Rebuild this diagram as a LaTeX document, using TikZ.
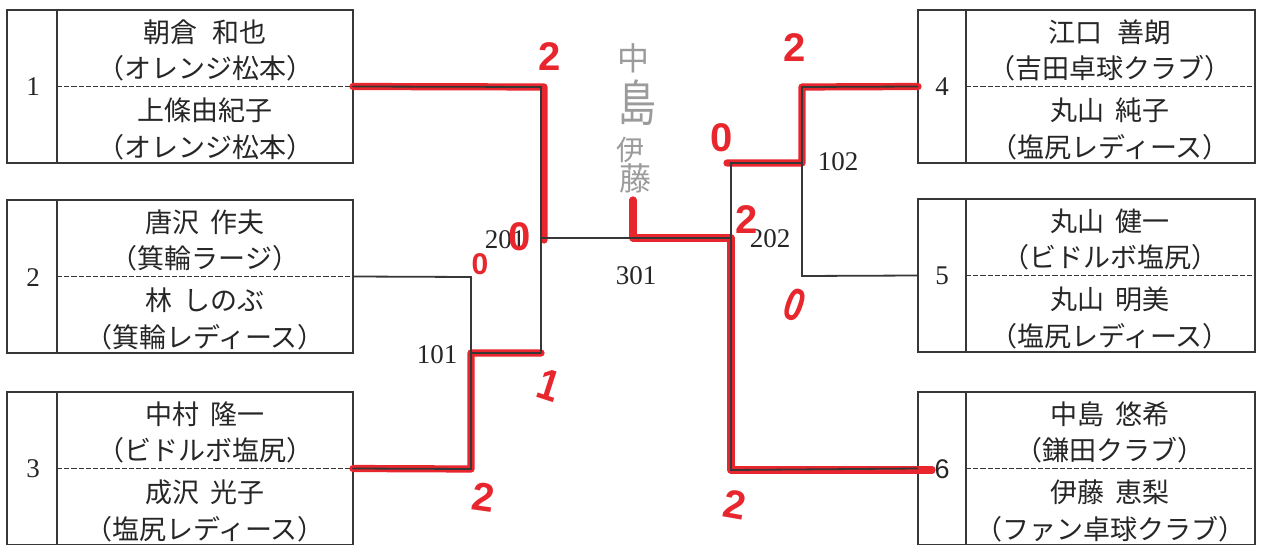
\documentclass[tikz,border=0pt]{standalone}
\usepackage{fontspec}
\setmainfont{Liberation Serif}
\newfontfamily\jp{Noto Sans CJK JP}
\newfontfamily\lsans{Liberation Sans}
\definecolor{ink}{RGB}{55,55,55}
\definecolor{marker}{RGB}{232,38,45}
\definecolor{pencil}{RGB}{155,155,155}
\begin{document}
\begin{tikzpicture}[x=0.5pt,y=-0.5pt,
  lbox/.style={draw=ink,line width=1.1pt,inner sep=0pt,outer sep=0pt,minimum width=173pt,minimum height=76.5pt},
  rbox/.style={draw=ink,line width=1.1pt,inner sep=0pt,outer sep=0pt,minimum width=168.5pt,minimum height=76.5pt},
  wire/.style={draw=ink,line width=0.9pt},
  sep/.style={draw=ink,line width=0.9pt},
  dsep/.style={draw=ink,line width=0.8pt,dash pattern=on 2.6pt off 1pt},
  redline/.style={draw=marker,line width=3.6pt,line cap=round,line join=round},
  nm/.style={font=\jp\fontsize{13.5}{15}\selectfont,text=black!85,inner sep=0pt},
  num/.style={font=\fontsize{13.5}{15}\selectfont,text=black!85,inner sep=0pt},
  blab/.style={font=\fontsize{13.5}{15}\selectfont,text=black!85,inner sep=0pt},
  score/.style={font=\lsans\bfseries\fontsize{20}{22}\selectfont,text=marker,inner sep=0pt},
  pen/.style={font=\jp\fontsize{16}{18}\selectfont,text=pencil,inner sep=0pt}
]
\useasboundingbox (0,0) rectangle (1261,545);
\clip (0,0) rectangle (1261,545);
\fill[white] (0,0) rectangle (1261,545);

% junction coordinates
\coordinate (a1) at (541,87);
\coordinate (j101) at (471,353);
\coordinate (j101r) at (541,353);
\coordinate (a2) at (471,277);
\coordinate (a3) at (471,469);
\coordinate (j201) at (541,238);
\coordinate (j202) at (731,238);
\coordinate (w301) at (633,238);
\coordinate (w301t) at (633,200);
\coordinate (b4) at (802,87);
\coordinate (j102) at (802,163);
\coordinate (j102l) at (731,163);
\coordinate (b5) at (802,276);
\coordinate (b6) at (731,470);
\coordinate (e6) at (932,470);

% boxes
\node[lbox] (p1) at (180,86.5) {};
\node[lbox] (p2) at (180,276.5) {};
\node[lbox] (p3) at (180,468.5) {};
\node[rbox] (p4) at (1086.5,86.5) {};
\node[rbox] (p5) at (1086.5,275.5) {};
\node[rbox] (p6) at (1086.5,468.5) {};

% red winner marks (under the black lines)
\draw[redline] (p1.east) -- (544,87) -- (544,240);
\draw[redline] (p3.east) -- (a3) -- (j101) -- (j101r);
\draw[redline] (w301t) -- (w301) -- (j202) -- (b6) -- (e6);
\draw[redline] (p4.west) -- (b4) -- (j102) -- (727,163);

% box inner lines
\foreach \b in {p1,p2,p3}{
  \draw[sep] ([xshift=25pt]\b.north west) -- ([xshift=25pt]\b.south west);
  \draw[dsep] ([xshift=25pt]\b.west) -- (\b.east);
}
\foreach \b in {p4,p5,p6}{
  \draw[sep] ([xshift=24pt]\b.north west) -- ([xshift=24pt]\b.south west);
  \draw[dsep] ([xshift=24pt]\b.west) -- (\b.east);
}

% bracket wires
\draw[wire] (p1.east) -- (a1) -- (j101r);
\draw[wire] (p2.east) -- (a2) -- (a3) -- (p3.east);
\draw[wire] (j101) -- (j101r);
\draw[wire] (j201) -- (j202);
\draw[wire] (p4.west) -- (b4) -- (b5) -- (p5.west);
\draw[wire] (j102) -- (j102l) -- (b6) -- (p6.west);

% seed numbers
\node[num] (n1) at (33,87) {1};
\node[num] (n2) at (33,278) {2};
\node[num] (n3) at (33,469) {3};
\node[num] (n4) at (942,87) {4};
\node[num] (n5) at (942,276) {5};
\node[num,font=\lsans\fontsize{13.5}{15}\selectfont] (n6) at (942,469) {6};

% names
\newcommand\rowsL[5]{%
  \node[nm] at (205,#1+22) {#2};
  \node[nm] at (205,#1+58) {#3};
  \node[nm] at (205,#1+100) {#4};
  \node[nm] at (205,#1+137) {#5};}
\newcommand\rowsR[5]{%
  \node[nm] at (1110,#1+22) {#2};
  \node[nm] at (1110,#1+58) {#3};
  \node[nm] at (1110,#1+100) {#4};
  \node[nm] at (1110,#1+137) {#5};}
\rowsL{10}{朝倉\hspace{.55em}和也}{（オレンジ松本）}{上條由紀子}{（オレンジ松本）}
\rowsL{200}{唐沢\hspace{.4em}作夫}{（箕輪ラージ）}{林\hspace{.4em}しのぶ}{（箕輪レディース）}
\rowsL{392}{中村\hspace{.4em}隆一}{（ビドルボ塩尻）}{成沢\hspace{.4em}光子}{（塩尻レディース）}
\rowsR{10}{江口\hspace{.55em}善朗}{（吉田卓球クラブ）}{丸山\hspace{.4em}純子}{（塩尻レディース）}
\rowsR{199}{丸山\hspace{.4em}健一}{（ビドルボ塩尻）}{丸山\hspace{.4em}明美}{（塩尻レディース）}
\rowsR{392}{中島\hspace{.4em}悠希}{（鎌田クラブ）}{伊藤\hspace{.4em}恵梨}{（ファン卓球クラブ）}

% match labels
\node[blab] (l101) at (437,355) {101};
\node[blab] (l201) at (505,240) {201};
\node[blab] (l301) at (636,276) {301};
\node[blab] (l102) at (838,162) {102};
\node[blab] (l202) at (770,239) {202};

% handwritten scores
\node[score] (s1) at (550,57) {2};
\node[score,font=\lsans\bfseries\fontsize{15}{17}\selectfont] (s2) at (480,264) {0};
\node[score] (s3) at (520,237) {0};
\node[score,rotate=-18,xscale=0.85,font=\lsans\bfseries\fontsize{22}{24}\selectfont] (s4) at (549,385) {1};
\node[score,rotate=-8] (s5) at (483,497) {2};
\node[score] (s6) at (722,138) {0};
\node[score] (s7) at (795,48) {2};
\node[score] (s8) at (747,220) {2};
\node[score,rotate=-20,xscale=0.75,font=\lsans\bfseries\fontsize{23}{25}\selectfont] (s9) at (795,305) {0};
\node[score,rotate=-10] (s10) at (735,505) {2};

% pencil note
\node[pen] (c1) at (633,58) {中};
\node[pen,yscale=1.3,font=\jp\fontsize{19}{21}\selectfont] (c2) at (637,103) {島};
\node[pen,font=\jp\fontsize{14}{16}\selectfont] (c3) at (630,150) {伊};
\node[pen] (c4) at (635,178) {藤};
\end{tikzpicture}
\end{document}
